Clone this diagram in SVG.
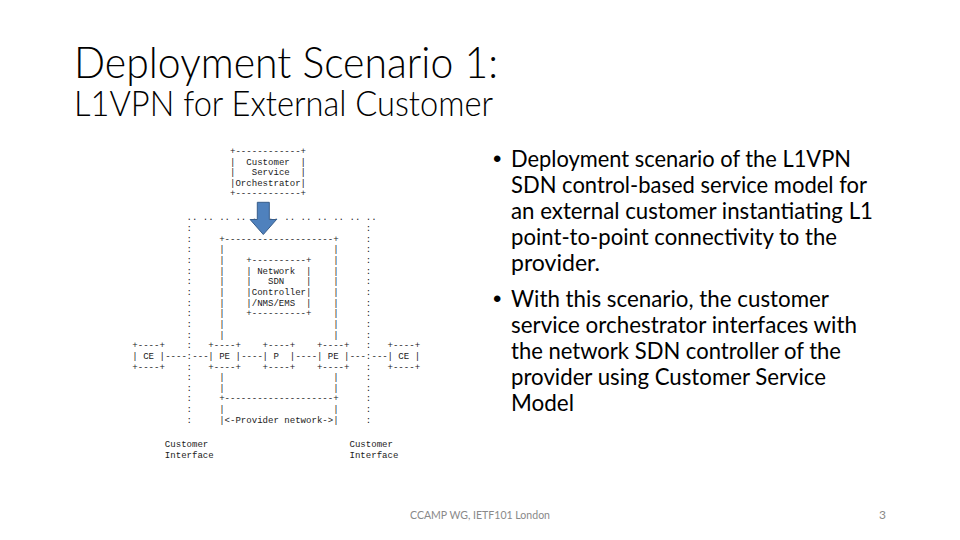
<svg xmlns="http://www.w3.org/2000/svg" width="960" height="540" viewBox="0 0 960 540">
<style>
.ttl{font-family:Lato,"Open Sans","Liberation Sans",sans-serif;font-weight:300;fill:#000}
.bul{font-family:Lato,"Open Sans","Liberation Sans",sans-serif;font-size:24px;fill:#000}
.dot{font-family:"Liberation Sans",Arial,sans-serif;font-size:24px;fill:#000}
.ft{font-family:Lato,"Open Sans","Liberation Sans",sans-serif;font-size:12px;fill:#898989}
.a{font-family:"Liberation Mono","DejaVu Sans Mono",monospace;font-size:9.05px;fill:#222;white-space:pre}
</style>
<rect width="960" height="540" fill="#fff"/>
<g id="title">
<text class="ttl" x="74" y="78" font-size="44" textLength="424" lengthAdjust="spacingAndGlyphs">Deployment Scenario 1:</text>
<text class="ttl" x="74" y="116" font-size="36" textLength="419" lengthAdjust="spacingAndGlyphs">L1VPN for External Customer</text>
</g>
<g id="bullets">
<text class="dot" x="493" y="167">•</text>
<text class="bul" x="511" y="167" textLength="340" lengthAdjust="spacingAndGlyphs">Deployment scenario of the L1VPN</text>
<text class="bul" x="511" y="193" textLength="356" lengthAdjust="spacingAndGlyphs">SDN control-based service model for</text>
<text class="bul" x="511" y="219" textLength="362" lengthAdjust="spacingAndGlyphs">an external customer instantiating L1</text>
<text class="bul" x="511" y="245" textLength="326" lengthAdjust="spacingAndGlyphs">point-to-point connectivity to the</text>
<text class="bul" x="511" y="271" textLength="89" lengthAdjust="spacingAndGlyphs">provider.</text>
<text class="dot" x="493" y="307">•</text>
<text class="bul" x="511" y="307" textLength="318" lengthAdjust="spacingAndGlyphs">With this scenario, the customer</text>
<text class="bul" x="511" y="333" textLength="346" lengthAdjust="spacingAndGlyphs">service orchestrator interfaces with</text>
<text class="bul" x="511" y="359" textLength="330" lengthAdjust="spacingAndGlyphs">the network SDN controller of the</text>
<text class="bul" x="511" y="385" textLength="315" lengthAdjust="spacingAndGlyphs">provider using Customer Service</text>
<text class="bul" x="511" y="411" textLength="63" lengthAdjust="spacingAndGlyphs">Model</text>
</g>
<g id="footer">
<text class="ft" x="410" y="519" textLength="140" lengthAdjust="spacingAndGlyphs">CCAMP WG, IETF101 London</text>
<text class="ft" x="886" y="519" text-anchor="end">3</text>
</g>
<g id="orchestrator">
<text class="a" xml:space="preserve"><tspan x="230.03" y="154.4">+------------+</tspan><tspan x="230.03" y="164.8">|  Customer  |</tspan><tspan x="230.03" y="175.2">|   Service  |</tspan><tspan x="230.03" y="185.6">|Orchestrator|</tspan><tspan x="230.03" y="196">+------------+</tspan></text>
</g>
<g id="customer-boundary">
<text class="a" xml:space="preserve" x="186.59" y="220.4">.. .. .. .. .. .. .. .. .. .. .. ..</text>
<text class="a"><tspan x="186.59" y="231.05">:</tspan><tspan x="186.59" y="241.7">:</tspan><tspan x="186.59" y="252.35">:</tspan><tspan x="186.59" y="263">:</tspan><tspan x="186.59" y="273.65">:</tspan><tspan x="186.59" y="284.3">:</tspan><tspan x="186.59" y="294.95">:</tspan><tspan x="186.59" y="305.6">:</tspan><tspan x="186.59" y="316.25">:</tspan><tspan x="186.59" y="326.9">:</tspan><tspan x="186.59" y="337.55">:</tspan><tspan x="186.59" y="348.2">:</tspan><tspan x="186.59" y="358.85">:</tspan><tspan x="186.59" y="369.5">:</tspan><tspan x="186.59" y="380.15">:</tspan><tspan x="186.59" y="390.8">:</tspan><tspan x="186.59" y="401.45">:</tspan><tspan x="186.59" y="412.1">:</tspan><tspan x="186.59" y="422.75">:</tspan></text>
<text class="a"><tspan x="365.78" y="231.05">:</tspan><tspan x="365.78" y="241.7">:</tspan><tspan x="365.78" y="252.35">:</tspan><tspan x="365.78" y="263">:</tspan><tspan x="365.78" y="273.65">:</tspan><tspan x="365.78" y="284.3">:</tspan><tspan x="365.78" y="294.95">:</tspan><tspan x="365.78" y="305.6">:</tspan><tspan x="365.78" y="316.25">:</tspan><tspan x="365.78" y="326.9">:</tspan><tspan x="365.78" y="337.55">:</tspan><tspan x="365.78" y="348.2">:</tspan><tspan x="365.78" y="358.85">:</tspan><tspan x="365.78" y="369.5">:</tspan><tspan x="365.78" y="380.15">:</tspan><tspan x="365.78" y="390.8">:</tspan><tspan x="365.78" y="401.45">:</tspan><tspan x="365.78" y="412.1">:</tspan><tspan x="365.78" y="422.75">:</tspan></text>
</g>
<g id="provider-network">
<text class="a" x="219.17" y="241.7">+--------------------+</text>
<text class="a"><tspan x="219.17" y="252.35">|</tspan><tspan x="219.17" y="263">|</tspan><tspan x="219.17" y="273.65">|</tspan><tspan x="219.17" y="284.3">|</tspan><tspan x="219.17" y="294.95">|</tspan><tspan x="219.17" y="305.6">|</tspan><tspan x="219.17" y="316.25">|</tspan><tspan x="219.17" y="326.9">|</tspan><tspan x="219.17" y="337.55">|</tspan></text>
<text class="a"><tspan x="333.2" y="252.35">|</tspan><tspan x="333.2" y="263">|</tspan><tspan x="333.2" y="273.65">|</tspan><tspan x="333.2" y="284.3">|</tspan><tspan x="333.2" y="294.95">|</tspan><tspan x="333.2" y="305.6">|</tspan><tspan x="333.2" y="316.25">|</tspan><tspan x="333.2" y="326.9">|</tspan><tspan x="333.2" y="337.55">|</tspan></text>
<text class="a"><tspan x="219.17" y="380.15">|</tspan><tspan x="219.17" y="390.8">|</tspan></text>
<text class="a"><tspan x="333.2" y="380.15">|</tspan><tspan x="333.2" y="390.8">|</tspan></text>
<text class="a" x="219.17" y="401.45">+--------------------+</text>
<text class="a" x="219.17" y="412.1">|</text>
<text class="a" x="333.2" y="412.1">|</text>
<text class="a" x="219.17" y="422.75">|&lt;-Provider network-&gt;|</text>
</g>
<g id="sdn-controller">
<text class="a" xml:space="preserve"><tspan x="246.3" y="263">+----------+</tspan><tspan x="246.3" y="273.65">| Network  |</tspan><tspan x="246.3" y="284.3">|   SDN    |</tspan><tspan x="246.3" y="294.95">|Controller|</tspan><tspan x="246.3" y="305.6">|/NMS/EMS  |</tspan><tspan x="246.3" y="316.25">+----------+</tspan></text>
</g>
<g id="ce-left">
<text class="a" xml:space="preserve"><tspan x="132.29" y="348.2">+----+</tspan><tspan x="132.29" y="358.85">| CE |</tspan><tspan x="132.29" y="369.5">+----+</tspan></text>
</g>
<g id="pe-left">
<text class="a" xml:space="preserve"><tspan x="208.3" y="348.2">+----+</tspan><tspan x="208.3" y="358.85">| PE |</tspan><tspan x="208.3" y="369.5">+----+</tspan></text>
</g>
<g id="p">
<text class="a" xml:space="preserve"><tspan x="262.6" y="348.2">+----+</tspan><tspan x="262.6" y="358.85">| P  |</tspan><tspan x="262.6" y="369.5">+----+</tspan></text>
</g>
<g id="pe-right">
<text class="a" xml:space="preserve"><tspan x="316.9" y="348.2">+----+</tspan><tspan x="316.9" y="358.85">| PE |</tspan><tspan x="316.9" y="369.5">+----+</tspan></text>
</g>
<g id="ce-right">
<text class="a" xml:space="preserve"><tspan x="387.5" y="348.2">+----+</tspan><tspan x="387.5" y="358.85">| CE |</tspan><tspan x="387.5" y="369.5">+----+</tspan></text>
</g>
<g id="interface-labels">
<text class="a"><tspan x="164.87" y="447">Customer</tspan><tspan x="164.87" y="458">Interface</tspan></text>
<text class="a"><tspan x="349.5" y="447">Customer</tspan><tspan x="349.5" y="458">Interface</tspan></text>
</g>
<g id="connectors">
<text class="a" x="165.2" y="358.85">----</text>
<text class="a" x="192.3" y="358.85">---</text>
<text class="a" x="241.2" y="358.85">----</text>
<text class="a" x="295.4" y="358.85">----</text>
<text class="a" x="349.7" y="358.85">---</text>
<text class="a" x="371.5" y="358.85">---</text>
<path d="M257.3,202.3 H269.3 V219.5 H276.5 L263.3,234.5 L250.1,219.5 H257.3 Z" fill="#4F81BD" stroke="#385D8A" stroke-width="1"/>
</g>
</svg>
